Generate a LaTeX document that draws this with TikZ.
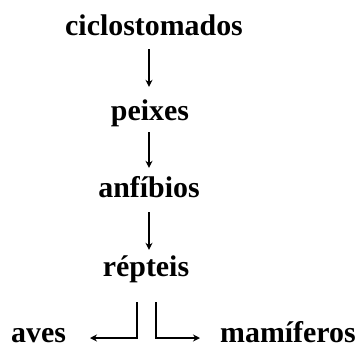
\documentclass[tikz,border=0pt]{standalone}
\usepackage{fontspec}
\setmainfont{Liberation Serif}
\usetikzlibrary{arrows.meta}
\begin{document}
\begin{tikzpicture}[x=1bp,y=-1bp,
  lbl/.style={font=\bfseries\fontsize{30}{32}\selectfont, inner sep=0pt, text height=20bp, text depth=5bp},
  low/.style={lbl, text depth=0bp},
  arr/.style={-{Stealth[length=7bp,width=7bp]}, line width=1.2bp}]
\useasboundingbox (0,0) rectangle (357,349);
\node[lbl, anchor=base] (cic) at (154,35) {ciclostomados};
\node[lbl, anchor=base] (pei) at (150,120) {peixes};
\node[lbl, anchor=base] (anf) at (149,197) {anfíbios};
\node[lbl, anchor=base] (rep) at (146,276) {répteis};
\node[low, anchor=base west] (ave) at (11,342) {aves};
\node[low, anchor=base west] (mam) at (220,342) {mamíferos};
\coordinate (xa) at (149,0);
\coordinate (xl) at (137,0);
\coordinate (xr) at (156,0);
\draw[arr, shorten <=9bp, shorten >=13bp] (cic.south -| xa) -- (pei.north -| xa);
\draw[arr, shorten <=7bp, shorten >=9bp] (pei.south -| xa) -- (anf.north -| xa);
\draw[arr, shorten <=10bp, shorten >=6bp] (anf.south -| xa) -- (rep.north -| xa);
\path (rep.south) ++(0,21) coordinate (rs);
\coordinate (ae) at (90,338);
\coordinate (me) at (200,338);
\draw[arr] (rs -| xl) |- (ae);
\draw[arr] (rs -| xr) |- (me);
\end{tikzpicture}
\end{document}
